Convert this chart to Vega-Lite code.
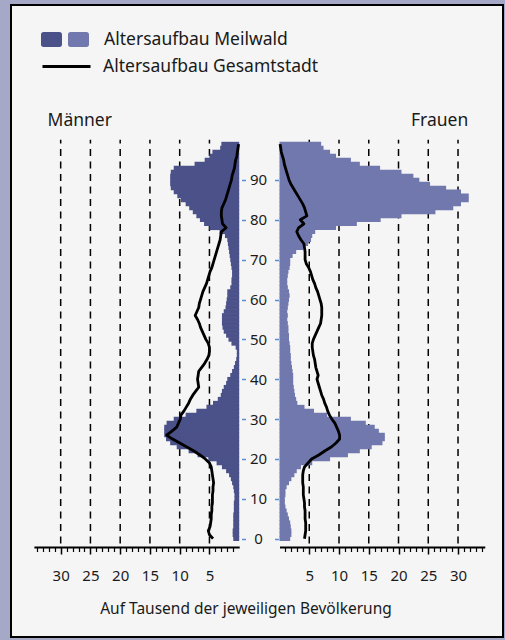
{
  "$schema": "https://vega.github.io/schema/vega-lite/v6.json",
  "width": 492,
  "height": 632,
  "autosize": "none",
  "padding": {"left": 11, "top": 5, "right": 2, "bottom": 3},
  "background": "#a5a8c7",
  "data": {"values": [
    {"age":0,"m":1.0,"w":1.8,"mc":4.4,"wc":4.2},
    {"age":1,"m":1.1,"w":2.0,"mc":5.0,"wc":4.3},
    {"age":2,"m":1.1,"w":2.0,"mc":5.2,"wc":4.4},
    {"age":3,"m":1.0,"w":1.9,"mc":4.9,"wc":4.4},
    {"age":4,"m":1.0,"w":1.8,"mc":4.8,"wc":4.4},
    {"age":5,"m":1.0,"w":1.6,"mc":4.7,"wc":4.3},
    {"age":6,"m":1.0,"w":1.4,"mc":4.7,"wc":4.3},
    {"age":7,"m":0.9,"w":1.2,"mc":4.6,"wc":4.3},
    {"age":8,"m":0.9,"w":1.0,"mc":4.6,"wc":4.2},
    {"age":9,"m":0.9,"w":0.9,"mc":4.5,"wc":4.2},
    {"age":10,"m":0.8,"w":0.9,"mc":4.5,"wc":4.1},
    {"age":11,"m":0.8,"w":1.0,"mc":4.5,"wc":4.0},
    {"age":12,"m":0.9,"w":1.0,"mc":4.4,"wc":4.0},
    {"age":13,"m":1.0,"w":1.2,"mc":4.4,"wc":4.0},
    {"age":14,"m":1.2,"w":1.6,"mc":4.3,"wc":3.9},
    {"age":15,"m":1.4,"w":2.0,"mc":4.4,"wc":3.9},
    {"age":16,"m":1.7,"w":2.5,"mc":4.5,"wc":3.9},
    {"age":17,"m":2.2,"w":2.9,"mc":4.6,"wc":4.0},
    {"age":18,"m":2.9,"w":3.6,"mc":4.7,"wc":4.2},
    {"age":19,"m":3.8,"w":5.5,"mc":5.0,"wc":4.8},
    {"age":20,"m":5.2,"w":8.5,"mc":5.7,"wc":5.4},
    {"age":21,"m":7.0,"w":11.5,"mc":6.6,"wc":6.6},
    {"age":22,"m":8.5,"w":13.5,"mc":7.6,"wc":7.6},
    {"age":23,"m":10.5,"w":15.5,"mc":8.8,"wc":8.7},
    {"age":24,"m":11.6,"w":17.3,"mc":10.0,"wc":9.5},
    {"age":25,"m":12.3,"w":17.7,"mc":11.2,"wc":10.1},
    {"age":26,"m":12.6,"w":17.7,"mc":12.2,"wc":10.1},
    {"age":27,"m":12.6,"w":16.7,"mc":11.3,"wc":9.9},
    {"age":28,"m":12.6,"w":16.0,"mc":10.5,"wc":9.6},
    {"age":29,"m":12.2,"w":14.5,"mc":10.2,"wc":9.3},
    {"age":30,"m":11.0,"w":12.0,"mc":9.9,"wc":8.8},
    {"age":31,"m":9.0,"w":8.0,"mc":9.8,"wc":8.4},
    {"age":32,"m":7.2,"w":5.8,"mc":9.3,"wc":8.1},
    {"age":33,"m":5.5,"w":4.2,"mc":8.9,"wc":7.9},
    {"age":34,"m":4.4,"w":3.0,"mc":8.5,"wc":7.6},
    {"age":35,"m":3.6,"w":2.8,"mc":8.2,"wc":7.4},
    {"age":36,"m":3.1,"w":2.6,"mc":7.8,"wc":7.1},
    {"age":37,"m":2.9,"w":2.5,"mc":7.3,"wc":6.9},
    {"age":38,"m":2.6,"w":2.4,"mc":6.8,"wc":6.7},
    {"age":39,"m":2.2,"w":2.3,"mc":6.9,"wc":6.5},
    {"age":40,"m":2.0,"w":2.3,"mc":7.0,"wc":6.3},
    {"age":41,"m":1.5,"w":2.3,"mc":6.9,"wc":6.5},
    {"age":42,"m":1.2,"w":2.2,"mc":6.8,"wc":6.3},
    {"age":43,"m":0.9,"w":2.1,"mc":6.3,"wc":6.1},
    {"age":44,"m":0.7,"w":2.0,"mc":5.8,"wc":6.0},
    {"age":45,"m":0.5,"w":1.9,"mc":5.4,"wc":5.9},
    {"age":46,"m":0.4,"w":1.9,"mc":5.1,"wc":5.7},
    {"age":47,"m":0.4,"w":1.8,"mc":5.0,"wc":5.6},
    {"age":48,"m":0.6,"w":1.8,"mc":5.0,"wc":5.5},
    {"age":49,"m":1.3,"w":1.7,"mc":5.2,"wc":5.5},
    {"age":50,"m":1.8,"w":1.6,"mc":5.6,"wc":5.7},
    {"age":51,"m":2.2,"w":1.6,"mc":5.9,"wc":6.0},
    {"age":52,"m":2.6,"w":1.5,"mc":6.2,"wc":6.3},
    {"age":53,"m":2.8,"w":1.5,"mc":6.5,"wc":6.6},
    {"age":54,"m":2.9,"w":1.4,"mc":6.7,"wc":6.9},
    {"age":55,"m":2.9,"w":1.3,"mc":7.0,"wc":7.0},
    {"age":56,"m":2.9,"w":1.4,"mc":7.4,"wc":7.1},
    {"age":57,"m":2.6,"w":1.3,"mc":7.1,"wc":7.1},
    {"age":58,"m":2.3,"w":1.4,"mc":6.8,"wc":7.1},
    {"age":59,"m":2.2,"w":1.5,"mc":6.7,"wc":7.0},
    {"age":60,"m":2.1,"w":1.6,"mc":6.5,"wc":6.8},
    {"age":61,"m":2.0,"w":1.7,"mc":6.3,"wc":6.6},
    {"age":62,"m":2.0,"w":1.6,"mc":6.1,"wc":6.4},
    {"age":63,"m":1.5,"w":1.4,"mc":5.8,"wc":6.1},
    {"age":64,"m":1.3,"w":1.3,"mc":5.5,"wc":5.9},
    {"age":65,"m":1.3,"w":1.3,"mc":5.3,"wc":5.6},
    {"age":66,"m":1.2,"w":1.4,"mc":5.1,"wc":5.4},
    {"age":67,"m":1.2,"w":1.5,"mc":4.9,"wc":5.2},
    {"age":68,"m":1.3,"w":1.7,"mc":4.6,"wc":4.9},
    {"age":69,"m":1.4,"w":1.8,"mc":4.4,"wc":4.5},
    {"age":70,"m":1.5,"w":1.8,"mc":4.2,"wc":4.3},
    {"age":71,"m":1.6,"w":2.2,"mc":4.0,"wc":4.3},
    {"age":72,"m":1.7,"w":2.8,"mc":3.8,"wc":4.3},
    {"age":73,"m":1.8,"w":4.0,"mc":3.6,"wc":4.2},
    {"age":74,"m":1.9,"w":4.8,"mc":3.4,"wc":4.1},
    {"age":75,"m":2.0,"w":5.3,"mc":3.2,"wc":3.6},
    {"age":76,"m":2.4,"w":5.5,"mc":3.1,"wc":3.2},
    {"age":77,"m":3.3,"w":6.0,"mc":3.0,"wc":2.9},
    {"age":78,"m":5.0,"w":9.5,"mc":2.2,"wc":3.2},
    {"age":79,"m":5.9,"w":13.0,"mc":2.8,"wc":4.1},
    {"age":80,"m":6.6,"w":17.0,"mc":2.9,"wc":3.5},
    {"age":81,"m":7.2,"w":20.5,"mc":3.0,"wc":4.6},
    {"age":82,"m":7.8,"w":26.2,"mc":3.0,"wc":4.4},
    {"age":83,"m":8.4,"w":29.2,"mc":2.9,"wc":4.2},
    {"age":84,"m":9.0,"w":30.5,"mc":2.6,"wc":3.9},
    {"age":85,"m":9.8,"w":31.8,"mc":2.3,"wc":3.5},
    {"age":86,"m":10.4,"w":31.8,"mc":2.1,"wc":3.1},
    {"age":87,"m":11.0,"w":30.5,"mc":1.9,"wc":2.7},
    {"age":88,"m":11.5,"w":28.0,"mc":1.7,"wc":2.3},
    {"age":89,"m":11.6,"w":25.3,"mc":1.5,"wc":1.9},
    {"age":90,"m":11.6,"w":23.5,"mc":1.3,"wc":1.6},
    {"age":91,"m":11.6,"w":22.5,"mc":1.2,"wc":1.4},
    {"age":92,"m":11.5,"w":20.5,"mc":1.0,"wc":1.2},
    {"age":93,"m":11.0,"w":16.9,"mc":0.8,"wc":1.0},
    {"age":94,"m":7.5,"w":13.5,"mc":0.7,"wc":0.8},
    {"age":95,"m":5.8,"w":12.0,"mc":0.6,"wc":0.7},
    {"age":96,"m":5.0,"w":9.5,"mc":0.4,"wc":0.5},
    {"age":97,"m":4.5,"w":8.5,"mc":0.3,"wc":0.3},
    {"age":98,"m":3.2,"w":7.4,"mc":0.2,"wc":0.2},
    {"age":99,"m":3.0,"w":7.0,"mc":0.1,"wc":0.1}
  ]},
  "layer": [
    {
      "layer": [
        {
          "data": {"values": [{"g":5},{"g":10},{"g":15},{"g":20},{"g":25},{"g":30}]},
          "mark": {"type": "rule", "strokeDash": [7, 5.5], "strokeWidth": 1.5, "color": "black"},
          "encoding": {
            "x": {"field": "g", "type": "quantitative",
                  "scale": {"domain": [0, 34.5], "range": [228.2, 22.9], "nice": false, "zero": false},
                  "axis": {"orient": "bottom", "offset": -90, "values": [5,10,15,20,25,30],
                           "title": "Auf Tausend der jeweiligen Bevölkerung",
                           "titleX": 234.5, "titleY": 66.5, "titleAlign": "center", "titleBaseline": "alphabetic",
                           "titleFontWeight": "normal", "titleFontSize": 15.5, "titleColor": "#1a1a1a",
                           "domain": true, "domainColor": "black", "domainWidth": 2,
                           "ticks": true, "tickColor": "black", "tickWidth": 1.5, "tickSize": 7,
                           "labelFontSize": 15, "labelPadding": 26.5, "labelBaseline": "alphabetic",
                           "labelColor": "#1a1a1a", "grid": false, "labelFlush": false, "labelOverlap": false}},
            "y": {"datum": -1.2, "type": "quantitative",
                  "scale": {"domain": [-23.41, 132.64], "nice": false, "zero": false}, "axis": null},
            "y2": {"datum": 100.1}
          }
        },
        {
          "mark": {"type": "bar", "orient": "horizontal", "size": 4.6},
          "encoding": {
            "x": {"field": "m", "type": "quantitative",
                  "scale": {"domain": [0, 34.5], "range": [228.2, 22.9], "nice": false, "zero": false},
                  "axis": {"orient": "bottom", "offset": -90,
                           "values": [1,2,3,4,6,7,8,9,11,12,13,14,16,17,18,19,21,22,23,24,26,27,28,29,31,32,33,34],
                           "labels": false, "domain": false, "ticks": true, "tickSize": 4.5, "tickWidth": 1.2,
                           "tickColor": "black", "title": null, "grid": false}},
            "y": {"field": "age", "type": "quantitative",
                  "scale": {"domain": [-23.41, 132.64], "nice": false, "zero": false},
                  "axis": {"orient": "right", "offset": -261.5, "values": [0,10,20,30,40,50,60,70,80,90],
                           "domain": false, "grid": false, "ticks": true, "tickSize": 4, "tickWidth": 1.5,
                           "tickColor": "#5b8ed6", "labelAlign": "center", "labelPadding": 12.5,
                           "labelBaseline": "middle", "labelFontSize": 15, "labelColor": "#1a1a1a",
                           "title": null, "labelFlush": false, "labelOverlap": false}},
            "fill": {"datum": "m", "type": "nominal",
                     "scale": {"domain": ["m", "w"], "range": ["#4b5189", "#7078ad"]},
                     "legend": {"orient": "none", "legendX": 30, "legendY": 24, "direction": "horizontal",
                                "title": null, "padding": 0, "offset": 0,
                                "symbolType": "M-0.75,-0.71L0.75,-0.71Q1,-0.71,1,-0.46L1,0.46Q1,0.71,0.75,0.71L-0.75,0.71Q-1,0.71,-1,0.46L-1,-0.46Q-1,-0.71,-0.75,-0.71Z",
                                "symbolSize": 441, "symbolStrokeWidth": 0, "symbolOpacity": 1,
                                "labelExpr": "datum.value == 'w' ? '\u200b\u00a0\u00a0Altersaufbau Meilwald' : ''",
                                "labelOffset": 6, "columnPadding": 0, "labelFontSize": 17.5,
                                "labelColor": "#1a1a1a", "labelLimit": 400}}
          }
        },
        {
          "mark": {"type": "line", "strokeWidth": 2.8, "strokeJoin": "round"},
          "encoding": {
            "x": {"field": "mc", "type": "quantitative",
                  "scale": {"domain": [0, 34.5], "range": [228.2, 22.9], "nice": false, "zero": false},
                  "axis": null},
            "y": {"field": "age", "type": "quantitative",
                  "scale": {"domain": [-23.41, 132.64], "nice": false, "zero": false}, "axis": null},
            "order": {"field": "age", "type": "quantitative"},
            "stroke": {"datum": "Altersaufbau Gesamtstadt", "type": "nominal",
                       "scale": {"range": ["black"]},
                       "legend": {"orient": "none", "legendX": 30, "legendY": 36, "title": null,
                                  "padding": 0, "offset": 0, "symbolType": "stroke", "symbolSize": 2304,
                                  "symbolStrokeWidth": 3, "labelOffset": 11, "labelFontSize": 17.5,
                                  "labelColor": "#1a1a1a", "labelLimit": 400}}
          }
        },
        {
          "data": {"values": [{"t": "Männer"}]},
          "mark": {"type": "text", "fontSize": 17.5, "align": "center", "baseline": "alphabetic", "color": "#1a1a1a"},
          "encoding": {
            "x": {"datum": 26.8, "type": "quantitative",
                  "scale": {"domain": [0, 34.5], "range": [228.2, 22.9], "nice": false, "zero": false},
                  "axis": null},
            "y": {"datum": 103.5, "type": "quantitative",
                  "scale": {"domain": [-23.41, 132.64], "nice": false, "zero": false}, "axis": null},
            "text": {"field": "t"}
          }
        }
      ],
      "resolve": {"axis": {"x": "independent", "y": "independent"}}
    },
    {
      "layer": [
        {
          "data": {"values": [{"g":5},{"g":10},{"g":15},{"g":20},{"g":25},{"g":30}]},
          "mark": {"type": "rule", "strokeDash": [7, 5.5], "strokeWidth": 1.5, "color": "black"},
          "encoding": {
            "x": {"field": "g", "type": "quantitative",
                  "scale": {"domain": [0, 34.5], "range": [268.5, 473.8], "nice": false, "zero": false},
                  "axis": {"orient": "bottom", "offset": -90, "values": [5,10,15,20,25,30], "title": null,
                           "domain": true, "domainColor": "black", "domainWidth": 2,
                           "ticks": true, "tickColor": "black", "tickWidth": 1.5, "tickSize": 7,
                           "labelFontSize": 15, "labelPadding": 26.5, "labelBaseline": "alphabetic",
                           "labelColor": "#1a1a1a", "grid": false, "labelFlush": false, "labelOverlap": false}},
            "y": {"datum": -1.2, "type": "quantitative",
                  "scale": {"domain": [-23.41, 132.64], "nice": false, "zero": false}, "axis": null},
            "y2": {"datum": 100.1}
          }
        },
        {
          "mark": {"type": "bar", "orient": "horizontal", "size": 4.6},
          "encoding": {
            "x": {"field": "w", "type": "quantitative",
                  "scale": {"domain": [0, 34.5], "range": [268.5, 473.8], "nice": false, "zero": false},
                  "axis": {"orient": "bottom", "offset": -90,
                           "values": [1,2,3,4,6,7,8,9,11,12,13,14,16,17,18,19,21,22,23,24,26,27,28,29,31,32,33,34],
                           "labels": false, "domain": false, "ticks": true, "tickSize": 4.5, "tickWidth": 1.2,
                           "tickColor": "black", "title": null, "grid": false}},
            "y": {"field": "age", "type": "quantitative",
                  "scale": {"domain": [-23.41, 132.64], "nice": false, "zero": false},
                  "axis": {"orient": "left", "offset": -267.5, "values": [0,10,20,30,40,50,60,70,80,90],
                           "domain": false, "grid": false, "ticks": true, "tickSize": 4, "tickWidth": 1.5,
                           "tickColor": "#5b8ed6", "labels": false, "title": null}},
            "fill": {"datum": "w", "type": "nominal",
                     "scale": {"domain": ["m", "w"], "range": ["#4b5189", "#7078ad"]},
                     "legend": {"orient": "none", "legendX": 30, "legendY": 24, "direction": "horizontal",
                                "title": null, "padding": 0, "offset": 0,
                                "symbolType": "M-0.75,-0.71L0.75,-0.71Q1,-0.71,1,-0.46L1,0.46Q1,0.71,0.75,0.71L-0.75,0.71Q-1,0.71,-1,0.46L-1,-0.46Q-1,-0.71,-0.75,-0.71Z",
                                "symbolSize": 441, "symbolStrokeWidth": 0, "symbolOpacity": 1,
                                "labelExpr": "datum.value == 'w' ? '\u200b\u00a0\u00a0Altersaufbau Meilwald' : ''",
                                "labelOffset": 6, "columnPadding": 0, "labelFontSize": 17.5,
                                "labelColor": "#1a1a1a", "labelLimit": 400}}
          }
        },
        {
          "mark": {"type": "line", "strokeWidth": 2.8, "strokeJoin": "round"},
          "encoding": {
            "x": {"field": "wc", "type": "quantitative",
                  "scale": {"domain": [0, 34.5], "range": [268.5, 473.8], "nice": false, "zero": false},
                  "axis": null},
            "y": {"field": "age", "type": "quantitative",
                  "scale": {"domain": [-23.41, 132.64], "nice": false, "zero": false}, "axis": null},
            "order": {"field": "age", "type": "quantitative"},
            "stroke": {"datum": "Altersaufbau Gesamtstadt", "type": "nominal",
                       "scale": {"range": ["black"]},
                       "legend": {"orient": "none", "legendX": 30, "legendY": 36, "title": null,
                                  "padding": 0, "offset": 0, "symbolType": "stroke", "symbolSize": 2304,
                                  "symbolStrokeWidth": 3, "labelOffset": 11, "labelFontSize": 17.5,
                                  "labelColor": "#1a1a1a", "labelLimit": 400}}
          }
        },
        {
          "data": {"values": [{"t": "Frauen"}]},
          "mark": {"type": "text", "fontSize": 17.5, "align": "center", "baseline": "alphabetic", "color": "#1a1a1a"},
          "encoding": {
            "x": {"datum": 26.9, "type": "quantitative",
                  "scale": {"domain": [0, 34.5], "range": [268.5, 473.8], "nice": false, "zero": false},
                  "axis": null},
            "y": {"datum": 103.5, "type": "quantitative",
                  "scale": {"domain": [-23.41, 132.64], "nice": false, "zero": false}, "axis": null},
            "text": {"field": "t"}
          }
        }
      ],
      "resolve": {"axis": {"x": "independent", "y": "independent"}}
    }
  ],
  "resolve": {"scale": {"x": "independent"}, "axis": {"x": "independent", "y": "independent"}},
  "config": {
    "font": "Noto Sans",
    "view": {"fill": "#f5f5f5", "stroke": "black", "strokeWidth": 2},
    "axis": {"labelFont": "Noto Sans", "titleFont": "Noto Sans"},
    "legend": {"labelFont": "Noto Sans"},
    "text": {"font": "Noto Sans"}
  }
}
